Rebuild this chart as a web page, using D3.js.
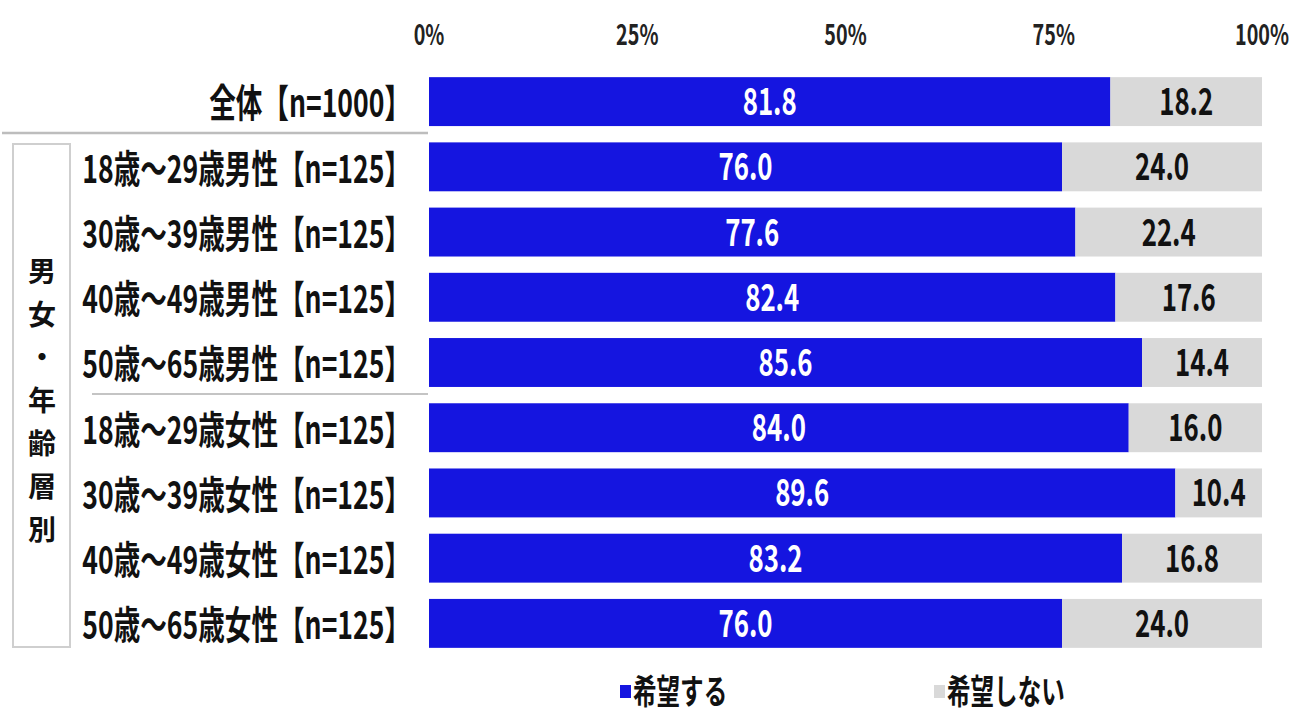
<!DOCTYPE html>
<html>
<head>
<meta charset="utf-8">
<script src="https://cdn.jsdelivr.net/npm/d3@7"></script>
<style>
  body { margin: 0; background: #fff; }
  text { font-family: "Noto Sans CJK JP", "Noto Sans", sans-serif; font-weight: bold; }
</style>
</head>
<body>
<script>
// categories and values
var categories = [
  "全体【n=1000】",
  "18歳～29歳男性【n=125】",
  "30歳～39歳男性【n=125】",
  "40歳～49歳男性【n=125】",
  "50歳～65歳男性【n=125】",
  "18歳～29歳女性【n=125】",
  "30歳～39歳女性【n=125】",
  "40歳～49歳女性【n=125】",
  "50歳～65歳女性【n=125】"
];
var hope   = [81.8, 76.0, 77.6, 82.4, 85.6, 84.0, 89.6, 83.2, 76.0];
var noHope = [18.2, 24.0, 22.4, 17.6, 14.4, 16.0, 10.4, 16.8, 24.0];
var tickValues = [0, 25, 50, 75, 100];
var seriesNames = ["希望する", "希望しない"];
var groupLabel = ["男", "女", "・", "年", "齢", "層", "別"];

var colors = ["#1515e0", "#d9d9d9"];
var squeeze = 0.76; // the original font is a condensed, tall gothic
var stretch = 1.1;

var svg = d3.select("body").append("svg")
    .attr("width", 1315)
    .attr("height", 715);

var x = d3.scaleLinear().domain([0, 100]).range([429, 1262]);
var y = d3.scaleBand().domain(categories).range([69, 656])
    .paddingInner(0.25).paddingOuter(0.125);

// helper for the squeezed text
function sText(g, tx, ty, str, size, anchor, fill) {
    return g.append("text")
        .attr("transform", "translate(" + tx + "," + ty + ") scale(" + squeeze + "," + stretch + ")")
        .attr("text-anchor", anchor)
        .attr("dy", "0.36em")
        .style("font-size", size + "px")
        .style("fill", fill)
        .text(str);
}

// tick labels on top
var axisG = svg.append("g");
tickValues.forEach(function (t) {
    sText(axisG, x(t), 35, t + "%", 26, "middle", "#222");
});

// bars
var rows = categories.map(function (c, i) {
    return {cat: c, a: hope[i], b: noHope[i]};
});

var barG = svg.append("g");
barG.selectAll("rect.hope").data(rows).enter().append("rect")
    .attr("class", "hope")
    .attr("x", x(0))
    .attr("y", function (d) { return y(d.cat); })
    .attr("width", function (d) { return x(d.a) - x(0); })
    .attr("height", y.bandwidth())
    .style("fill", colors[0]);

barG.selectAll("rect.nohope").data(rows).enter().append("rect")
    .attr("class", "nohope")
    .attr("x", function (d) { return x(d.a); })
    .attr("y", function (d) { return y(d.cat); })
    .attr("width", function (d) { return x(d.a + d.b) - x(d.a); })
    .attr("height", y.bandwidth())
    .style("fill", colors[1]);

// value labels
rows.forEach(function (d) {
    var cy = y(d.cat) + y.bandwidth() / 2;
    sText(barG, (x(0) + x(d.a)) / 2, cy, d.a.toFixed(1), 34, "middle", "#fff");
    sText(barG, (x(d.a) + x(d.a + d.b)) / 2, cy, d.b.toFixed(1), 34, "middle", "#111");
});

// category labels
var labG = svg.append("g");
rows.forEach(function (d) {
    sText(labG, 411, y(d.cat) + y.bandwidth() / 2 + 2, d.cat, 35, "end", "#111");
});

// separators
svg.append("line")
    .attr("x1", 2).attr("x2", 428)
    .attr("y1", 133).attr("y2", 133)
    .style("stroke", "#bdbdbd").style("stroke-width", 2.5);
svg.append("line")
    .attr("x1", 92).attr("x2", 428)
    .attr("y1", 394).attr("y2", 394)
    .style("stroke", "#c4c4c4").style("stroke-width", 2);

// group box on the left
svg.append("rect")
    .attr("x", 13).attr("y", 144)
    .attr("width", 57).attr("height", 503)
    .style("fill", "none")
    .style("stroke", "#cfcfcf").style("stroke-width", 2);

groupLabel.forEach(function (ch, i) {
    svg.append("text")
        .attr("x", 42)
        .attr("y", 272 + i * 43)
        .attr("text-anchor", "middle")
        .attr("dy", "0.36em")
        .style("font-size", "28px")
        .style("fill", "#111")
        .text(ch);
});

// legend
var legX = [620, 934];
seriesNames.forEach(function (n, i) {
    svg.append("rect")
        .attr("x", legX[i]).attr("y", 685)
        .attr("width", 11).attr("height", 13)
        .style("fill", colors[i]);
    sText(svg, legX[i] + 13, 692, n, 31, "start", "#111");
});
</script>
</body>
</html>
